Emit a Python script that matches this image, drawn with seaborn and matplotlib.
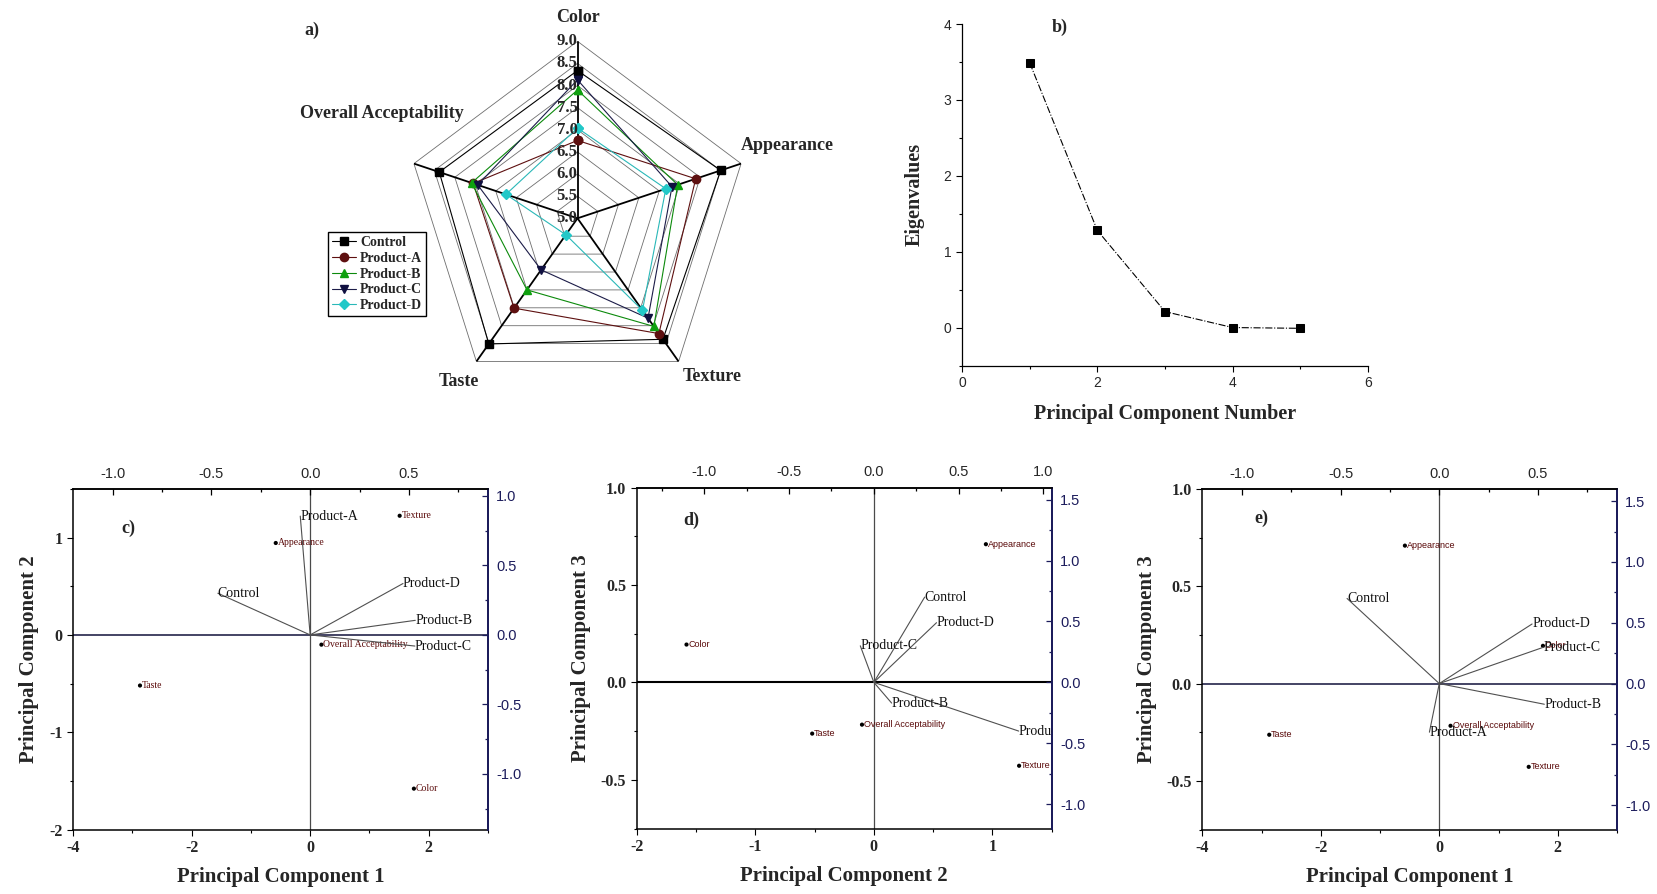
import numpy as np
import matplotlib
matplotlib.use("Agg")
import matplotlib.pyplot as plt
from matplotlib.ticker import MultipleLocator, FormatStrFormatter
import matplotlib.transforms as mtransforms
import seaborn as sns

# ---- data ----
attributes = ["Color", "Appearance", "Texture", "Taste", "Overall Acceptability"]
products = ["Control", "Product-A", "Product-B", "Product-C", "Product-D"]

# sensory scores (radar, panel a)
control = [8.34, 8.50, 8.38, 8.51, 8.38]
product_a = [6.76, 7.89, 8.22, 7.51, 7.55]
product_b = [7.90, 7.45, 8.02, 7.00, 7.59]
product_c = [8.13, 7.31, 7.79, 6.44, 7.44]
product_d = [7.04, 7.16, 7.57, 5.46, 6.75]

# scree plot (panel b)
pc_number = [1, 2, 3, 4, 5]
eigenvalues = [3.49, 1.28, 0.21, 0.0, -0.01]

# PCA scores of the attributes
score_pc1 = [1.75, -0.58, 1.51, -2.87, 0.19]
score_pc2 = [-1.58, 0.945, 1.225, -0.52, -0.10]
score_pc3 = [0.194, 0.709, -0.428, -0.263, -0.217]

# PCA loadings of the products
load_pc1 = [-0.467, -0.05, 0.532, 0.53, 0.47]
load_pc2 = [0.30, 0.855, 0.105, -0.08, 0.37]
load_pc3 = [0.70, -0.40, -0.17, 0.30, 0.49]

sns.set_theme(style="ticks")
plt.rcParams["font.family"] = ["Liberation Serif", "DejaVu Serif"]

W, H = 1657, 894
fig = plt.figure(figsize=(W / 100, H / 100), dpi=100)


def px_rect(left, top, right, bottom):
    return [left / W, 1 - bottom / H, (right - left) / W, (bottom - top) / H]


# ---------------- a) radar ----------------
ax_r = fig.add_axes(px_rect(405.5, 41.3, 749.5, 395.3), projection="polar")
ax_r.set_theta_zero_location("N")
ax_r.set_theta_direction(-1)
ax_r.set_ylim(5, 9)
ax_r.set_aspect("auto")
ax_r.grid(False)
ax_r.set_xticks([])
ax_r.set_yticks([])
ax_r.spines["polar"].set_visible(False)
ax_r.patch.set_visible(False)

angles = list(np.linspace(0, 2 * np.pi, len(attributes), endpoint=False))
closed = angles + angles[:1]
levels = np.arange(5.0, 9.01, 0.5)
for lvl in levels[1:]:
    ax_r.plot(closed, [lvl] * len(closed), color="#6e6e6e", lw=0.6, zorder=1)
for a in angles:
    ax_r.plot([a, a], [5, 9], color="black", lw=1.3, zorder=2)
for lvl in levels:
    ax_r.annotate(f"{lvl:.1f}", xy=(0, lvl), xytext=(0, 0), textcoords="offset points",
                  ha="right", va="center", fontsize=12, fontweight="bold", zorder=5)

series = [
    ("Control", control, "#000000", "#000000", "s"),
    ("Product-A", product_a, "#5e1010", "#5e1010", "o"),
    ("Product-B", product_b, "#0c8a0c", "#0fa00f", "^"),
    ("Product-C", product_c, "#1c1c48", "#101040", "v"),
    ("Product-D", product_d, "#2ab8b8", "#22c8c8", "D"),
]
handles = []
for name, vals, lc, mc, mk in series:
    h, = ax_r.plot(closed, list(vals) + [vals[0]], color=lc, lw=0.8, marker=mk,
                   markersize=6 if mk != "D" else 5, markerfacecolor=mc,
                   markeredgecolor=mc, label=name, zorder=4, clip_on=False)
    handles.append(h)

fig.legend(handles=handles, loc="upper left", bbox_to_anchor=(328 / W, 1 - 232 / H),
           prop={"weight": "bold", "size": 10}, frameon=True, fancybox=False,
           edgecolor="black", framealpha=1, handlelength=1.7, handletextpad=0.3,
           labelspacing=0.2, borderpad=0.3, borderaxespad=0)

radar_labels = [("Color", 578, 17), ("Appearance", 787, 145), ("Texture", 712, 377),
                ("Taste", 459, 382), ("Overall Acceptability", 382, 114)]
for txt, x, y in radar_labels:
    fig.text(x / W, 1 - y / H, txt, ha="center", va="center", fontsize=13,
             fontweight="bold")
fig.text(312 / W, 1 - 30 / H, "a)", ha="center", va="center", fontsize=13,
         fontweight="bold")

# ---------------- b) scree ----------------
ax_b = fig.add_axes(px_rect(962, 24, 1368, 365.5))
sns.lineplot(x=pc_number, y=eigenvalues, ax=ax_b, color="black", lw=0.8,
             linestyle="-.", marker="s", markersize=6, markeredgecolor="black")
ax_b.set_xlim(0, 6)
ax_b.set_ylim(-0.5, 4)
ax_b.xaxis.set_major_locator(MultipleLocator(2))
ax_b.xaxis.set_minor_locator(MultipleLocator(1))
ax_b.yaxis.set_major_locator(MultipleLocator(1))
ax_b.yaxis.set_minor_locator(MultipleLocator(0.5))
sns.despine(ax=ax_b)
ax_b.tick_params(which="both", direction="out", width=0.8, color="black",
                 labelsize=10, labelfontfamily="Liberation Sans")
ax_b.tick_params(which="major", length=4)
ax_b.tick_params(which="minor", length=2.5)
for s in ("left", "bottom"):
    ax_b.spines[s].set_color("black")
    ax_b.spines[s].set_linewidth(0.9)
ax_b.set_xlabel("Principal Component Number", fontsize=14.5, fontweight="bold", labelpad=10)
ax_b.set_ylabel("Eigenvalues", fontsize=14.5, fontweight="bold", labelpad=14)
fig.text(1060 / W, 1 - 27 / H, "b)", ha="center", va="center", fontsize=13,
         fontweight="bold")


# ---------------- biplots ----------------
def biplot(rect, sx, sy, lx, ly, xlim, ylim, xlim2, ylim2, xmaj, ymaj, xfmt, yfmt,
           xlabel, ylabel, tag, tagpos, serif_attr=False, hline="#24244a", hlw=1.2):
    ax = fig.add_axes(rect)
    ax.set_facecolor("white")
    ax.set_xlim(*xlim)
    ax.set_ylim(*ylim)
    ax.axhline(0, color=hline, lw=hlw, zorder=1)
    ax.axvline(0, color="#4a4a4a", lw=0.9, zorder=1)
    sns.scatterplot(x=sx, y=sy, ax=ax, color="black", s=9, edgecolor="none", zorder=3)
    fam = "Liberation Serif" if serif_attr else "Liberation Sans"
    shift = mtransforms.ScaledTranslation(2 / 100, 0, fig.dpi_scale_trans)
    for name, x, y in zip(attributes, sx, sy):
        ax.text(x, y, name, fontsize=7 if serif_attr else 6.5,
                color="#5a0a0a", ha="left", va="center", family=fam,
                transform=ax.transData + shift, clip_on=True, zorder=4)
    ax.xaxis.set_major_locator(MultipleLocator(xmaj))
    ax.xaxis.set_minor_locator(MultipleLocator(xmaj / 2))
    ax.yaxis.set_major_locator(MultipleLocator(ymaj))
    ax.yaxis.set_minor_locator(MultipleLocator(ymaj / 2))
    ax.xaxis.set_major_formatter(FormatStrFormatter(xfmt))
    ax.yaxis.set_major_formatter(FormatStrFormatter(yfmt))
    ax.tick_params(which="both", direction="out", color="black", width=0.8,
                   labelsize=11.5)
    ax.tick_params(which="major", length=4)
    ax.tick_params(which="minor", length=2)
    for lab in ax.get_xticklabels() + ax.get_yticklabels():
        lab.set_fontweight("bold")
    for s in ax.spines.values():
        s.set_color("black")
        s.set_linewidth(1.1)
    ax.set_xlabel(xlabel, fontsize=15, fontweight="bold", labelpad=8)
    ax.set_ylabel(ylabel, fontsize=15, fontweight="bold", labelpad=7)
    ax.text(tagpos[0], tagpos[1], tag, transform=ax.transAxes, fontsize=13,
            fontweight="bold", ha="center", va="center")

    # loadings on the top / right axes
    ax2 = fig.add_axes(rect, label=tag + "load")
    ax2.patch.set_visible(False)
    ax2.set_xlim(*xlim2)
    ax2.set_ylim(*ylim2)
    ax2.xaxis.tick_top()
    ax2.yaxis.tick_right()
    ax2.xaxis.set_major_locator(MultipleLocator(0.5))
    ax2.xaxis.set_minor_locator(MultipleLocator(0.25))
    ax2.yaxis.set_major_locator(MultipleLocator(0.5))
    ax2.yaxis.set_minor_locator(MultipleLocator(0.25))
    ax2.xaxis.set_major_formatter(FormatStrFormatter("%.1f"))
    ax2.yaxis.set_major_formatter(FormatStrFormatter("%.1f"))
    ax2.tick_params(which="both", direction="in", labelsize=10.5,
                    labelfontfamily="Liberation Sans", width=0.9)
    ax2.tick_params(axis="x", which="both", color="black", pad=6)
    ax2.tick_params(axis="y", which="both", color="#1c1c5c", labelcolor="#1c1c5c", pad=6)
    ax2.tick_params(which="major", length=4)
    ax2.tick_params(which="minor", length=2.5)
    ax2.spines["left"].set_visible(False)
    ax2.spines["bottom"].set_visible(False)
    ax2.spines["top"].set_color("black")
    ax2.spines["top"].set_linewidth(1.1)
    ax2.spines["right"].set_color("#1c1c5c")
    ax2.spines["right"].set_linewidth(1.4)
    for name, x, y in zip(products, lx, ly):
        ax2.plot([0, x], [0, y], color="#505050", lw=0.8, zorder=2)
        ax2.text(x, y, name, fontsize=10, ha="left", va="center", color="#111111",
                 clip_on=True, zorder=5)
    return ax, ax2


biplot(px_rect(73, 489, 488, 829.5), score_pc1, score_pc2, load_pc1, load_pc2,
       (-4, 3), (-2, 1.5), (-1.2, 0.9), (-1.4, 1.05), 2, 1, "%d", "%d",
       "Principal Component 1", "Principal Component 2", "c)", (0.134, 0.885),
       serif_attr=True)
biplot(px_rect(636.7, 487.5, 1051.7, 828.5), score_pc2, score_pc3, load_pc2, load_pc3,
       (-2, 1.5), (-0.75, 1.0), (-1.4, 1.05), (-1.2, 1.6), 1, 0.5, "%d", "%.1f",
       "Principal Component 2", "Principal Component 3", "d)", (0.1325, 0.904),
       hline="black", hlw=1.5)
biplot(px_rect(1202.3, 489, 1617, 829.5), score_pc1, score_pc3, load_pc1, load_pc3,
       (-4, 3), (-0.75, 1.0), (-1.2, 0.9), (-1.2, 1.6), 2, 0.5, "%d", "%.1f",
       "Principal Component 1", "Principal Component 3", "e)", (0.143, 0.915))

fig.savefig("out.png", dpi=100, facecolor="white")
